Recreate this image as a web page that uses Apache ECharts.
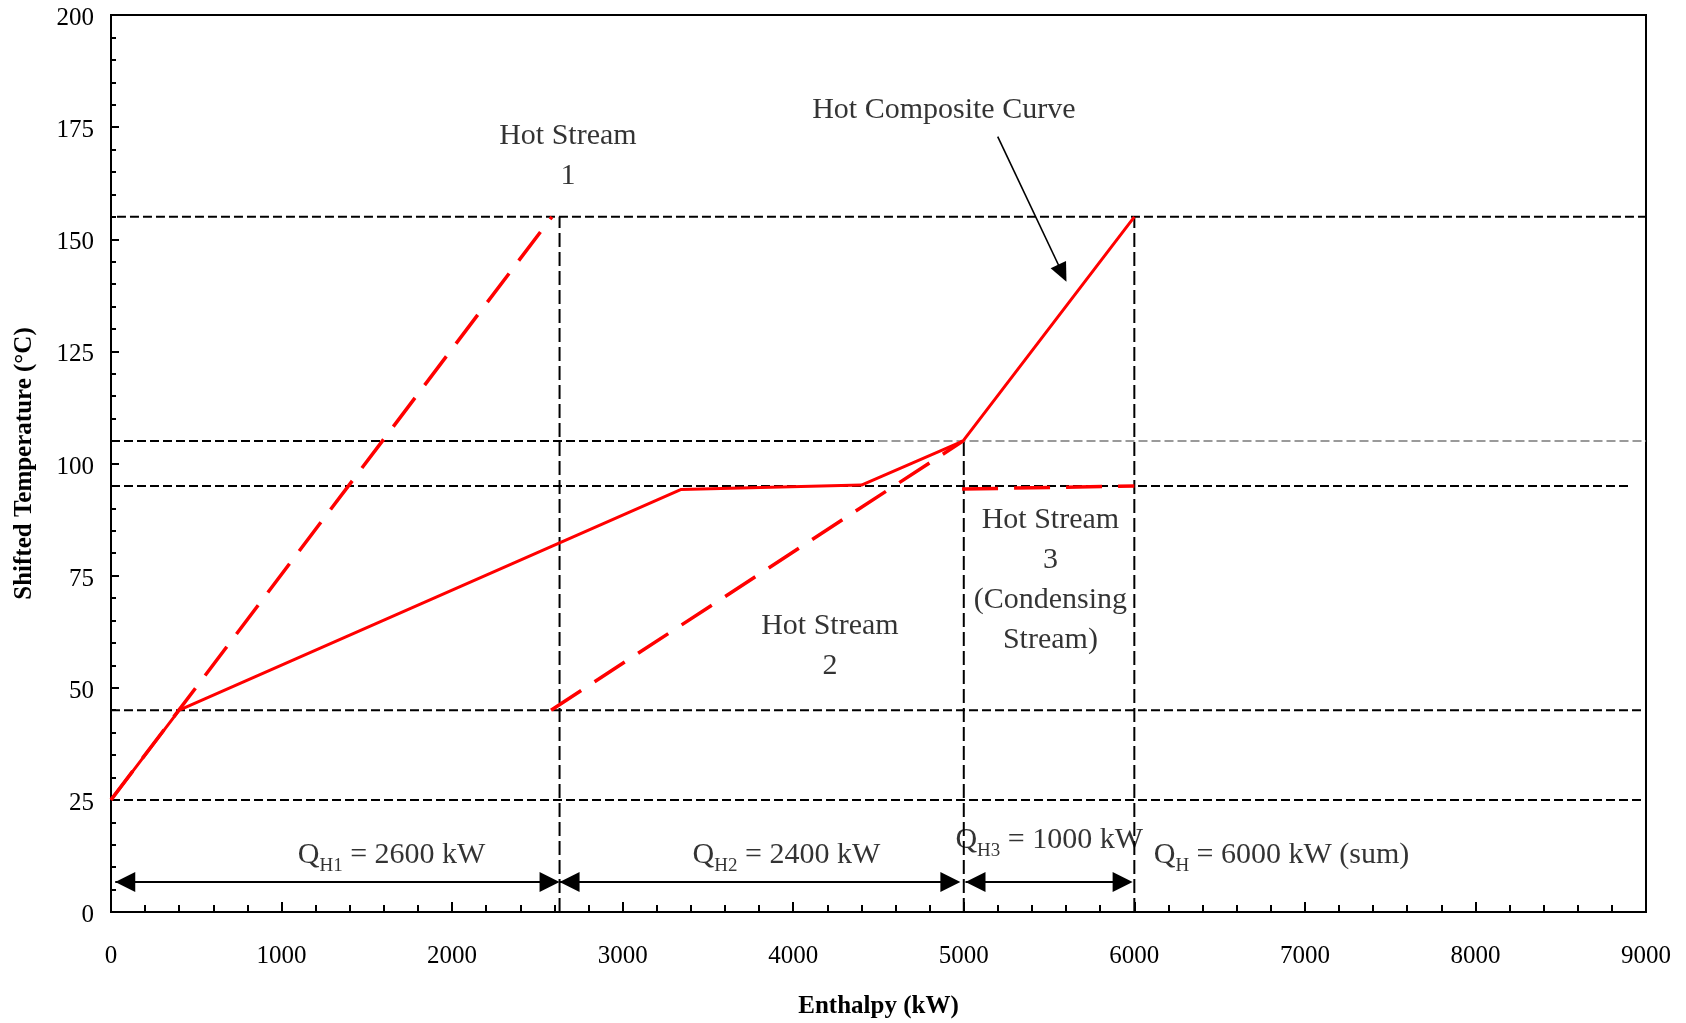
<!DOCTYPE html>
<html>
<head>
<meta charset="utf-8">
<title>Hot Composite Curve</title>
<script src="https://cdn.jsdelivr.net/npm/echarts@6/dist/echarts.min.js"></script>
<style>
  html, body { margin: 0; padding: 0; background: #fff; }
  #chart { width: 1686px; height: 1023px; }
</style>
</head>
<body>
<div id="chart"></div>
<script>
// Hot composite curve: enthalpy (kW) against shifted temperature (°C)
const compositeCurve = [[0, 25], [400, 45], [3340, 94.2], [4400, 95.2], [4995, 105], [6000, 155]];
const hotStream1 = [[0, 25], [2585, 155]];
const hotStream2 = [[2580, 45], [4995, 105]];
const hotStream3 = [[4990, 94.3], [6000, 95]];

// Temperature guides: [temperature, from kW, to kW, colour]
const tempGuides = [
  [155, 35, 9000, '#000'],
  [105, 0, 4500, '#000'],
  [105, 4500, 9000, '#9a9a9a'],
  [95, 0, 8910, '#000'],
  [45, 0, 9000, '#000'],
  [25, 0, 9000, '#000']
];
// Duty guides: [enthalpy, from °C, to °C]
const dutyGuides = [[2630, 0, 155], [5000, 0, 105], [6000, 0, 155]];

// Arrows: [x0, y0, x1, y1, headAtBothEnds]
const arrows = [
  [25, 6.7, 2630, 6.7, 1],
  [2630, 6.7, 4980, 6.7, 1],
  [5010, 6.7, 5990, 6.7, 1],
  [5199, 172.9, 5602, 140.5, 0]
];

// Text notes: [x, y, text]
const notes = [
  [2679, 168.5, 'Hot Stream\n1'],
  [4883, 178.7, 'Hot Composite Curve'],
  [4215, 59.2, 'Hot Stream\n2'],
  [5508, 74.1, 'Hot Stream\n3\n(Condensing\nStream)']
];
// Duty labels: [x, y, subscript, rest]
const dutyLabels = [
  [1645, 12.7, 'H1', ' = 2600 kW'],
  [3960, 12.7, 'H2', ' = 2400 kW'],
  [5501, 16.1, 'H3', ' = 1000 kW'],
  [6863, 12.7, 'H', ' = 6000 kW (sum)']
];

const FONT = "'Liberation Serif', 'Times New Roman', serif";
const RED = '#ff0000';

function renderArrow(params, api) {
  const p0 = api.coord([api.value(0), api.value(1)]);
  const p1 = api.coord([api.value(2), api.value(3)]);
  const both = api.value(4) === 1;
  const headLen = both ? 20 : 19;
  const headHalf = both ? 10 : 8.5;
  const dx = p1[0] - p0[0], dy = p1[1] - p0[1];
  const len = Math.hypot(dx, dy);
  const ux = dx / len, uy = dy / len;
  const nx = -uy, ny = ux;
  function head(tip, dir) {
    const bx = tip[0] - dir[0] * headLen, by = tip[1] - dir[1] * headLen;
    return {
      type: 'polygon',
      shape: { points: [[tip[0], tip[1]], [bx + nx * headHalf, by + ny * headHalf], [bx - nx * headHalf, by - ny * headHalf]] },
      style: { fill: '#000' }
    };
  }
  const children = [{
    type: 'line',
    shape: { x1: p0[0], y1: p0[1], x2: p1[0] - ux * headLen * 0.5, y2: p1[1] - uy * headLen * 0.5 },
    style: { stroke: '#000', lineWidth: both ? 2 : 1.6 }
  }];
  children.push(head(p1, [ux, uy]));
  if (both) children.push(head(p0, [-ux, -uy]));
  return { type: 'group', children: children };
}

const guideSeries = [];
tempGuides.forEach(function (g) {
  guideSeries.push({
    type: 'line', data: [[g[1], g[0]], [g[2], g[0]]], symbol: 'none', silent: true, z: 2,
    lineStyle: { color: g[3], width: 2, type: [9, 4] }
  });
});
dutyGuides.forEach(function (g) {
  guideSeries.push({
    type: 'line', data: [[g[0], g[1]], [g[0], g[2]]], symbol: 'none', silent: true, z: 2,
    lineStyle: { color: '#000', width: 2, type: [14, 5] }
  });
});

const axisCommon = {
  type: 'value',
  nameLocation: 'middle',
  nameTextStyle: { fontFamily: FONT, fontSize: 25, fontWeight: 'bold', color: '#000' },
  axisLine: { show: true, onZero: false, lineStyle: { color: '#000', width: 2 } },
  splitLine: { show: false }
};

const option = {
  animation: false,
  backgroundColor: '#fff',
  grid: {
    left: 111, right: 40, top: 15, bottom: 111,
    containLabel: false, outerBoundsMode: 'none',
    show: true, borderColor: '#000', borderWidth: 2, backgroundColor: 'transparent'
  },
  xAxis: Object.assign({}, axisCommon, {
    min: 0, max: 9000, interval: 1000,
    name: 'Enthalpy (kW)', nameGap: 82,
    axisTick: { show: true, inside: true, length: 10, lineStyle: { color: '#000', width: 2 } },
    minorTick: { show: true, splitNumber: 5, length: 7, lineStyle: { color: '#000', width: 2 } },
    axisLabel: {
      margin: 32, fontFamily: FONT, fontSize: 25, color: '#000',
      formatter: function (v) { return String(v); }
    }
  }),
  yAxis: Object.assign({}, axisCommon, {
    min: 0, max: 200, interval: 25,
    name: 'Shifted Temperature (°C)', nameGap: 74,
    axisTick: { show: true, inside: true, length: 8, lineStyle: { color: '#000', width: 2 } },
    minorTick: { show: true, splitNumber: 5, length: 5, lineStyle: { color: '#000', width: 2 } },
    axisLabel: {
      margin: 17, color: '#000',
      formatter: function (v) { return '{t|' + v + '}'; },
      rich: { t: { fontFamily: FONT, fontSize: 25, color: '#000', padding: [7, 0, 0, 0] } }
    }
  }),
  series: guideSeries.concat([
    { type: 'line', name: 'Hot Stream 1', data: hotStream1, symbol: 'none', z: 4, lineStyle: { color: RED, width: 3.5, type: [36, 16] } },
    { type: 'line', name: 'Hot Stream 2', data: hotStream2, symbol: 'none', z: 4, lineStyle: { color: RED, width: 3.5, type: [36, 16] } },
    { type: 'line', name: 'Hot Stream 3', data: hotStream3, symbol: 'none', z: 4, lineStyle: { color: RED, width: 3.5, type: [36, 16] } },
    { type: 'line', name: 'Hot Composite Curve', data: compositeCurve, symbol: 'none', z: 5, lineStyle: { color: RED, width: 3 } },
    {
      type: 'custom', name: 'arrows', renderItem: renderArrow, data: arrows, z: 6, silent: true,
      encode: { x: [0, 2], y: [1, 3] }
    },
    {
      type: 'scatter', name: 'notes', symbolSize: 0, silent: true, z: 7,
      data: notes.map(function (n) { return { value: [n[0], n[1]], label: { formatter: n[2] } }; }),
      label: { show: true, position: 'inside', align: 'center', verticalAlign: 'middle', fontFamily: FONT, fontSize: 30, lineHeight: 40, color: '#000' }
    },
    {
      type: 'scatter', name: 'duties', symbolSize: 0, silent: true, z: 7,
      data: dutyLabels.map(function (d) {
        return { value: [d[0], d[1]], label: { formatter: '{m|Q}{s|' + d[2] + '}{m|' + d[3] + '}' } };
      }),
      label: {
        show: true, position: 'inside', align: 'center', verticalAlign: 'middle', color: '#000',
        rich: {
          m: { fontFamily: FONT, fontSize: 30, lineHeight: 38, color: '#000' },
          s: { fontFamily: FONT, fontSize: 19, lineHeight: 16, padding: [22, 0, 0, 0], color: '#000' }
        }
      }
    }
  ])
};

const chart = echarts.init(document.getElementById('chart'), null, { renderer: 'canvas' });
chart.setOption(option);
</script>
</body>
</html>
